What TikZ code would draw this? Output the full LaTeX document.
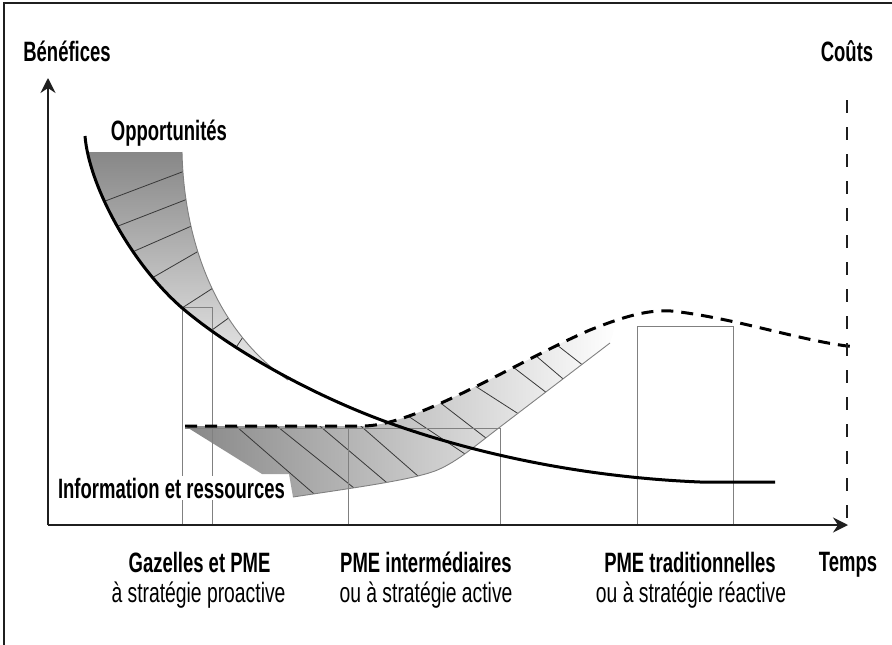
\documentclass[tikz,border=0pt]{standalone}
\usepackage{fontspec}
\newfontfamily\labb[FakeStretch=0.66]{Liberation Sans}
\newfontfamily\labr[FakeStretch=0.69]{Liberation Sans}
\usetikzlibrary{arrows.meta,calc}
\definecolor{thinc}{gray}{0.5}
\definecolor{hatchc}{gray}{0.22}
\definecolor{axisc}{gray}{0.12}
\definecolor{darkfill}{gray}{0.53}
\def\maincurve{(85,136) .. controls (89,185) and (130,262) .. (181,307) .. controls (231,350) and (315,397) .. (395,425) .. controls (475,453) and (580,477) .. (700,482) -- (775,482)}
\def\upperband{(60,152) -- (182,152) .. controls (184,240) and (215,330) .. (288,380) -- (250,420) -- (60,420) -- cycle}
\def\lowerband{(185,426) -- (365,426) .. controls (420,424) and (520,360) .. (590,330) -- (618,318) -- (610,343) -- (500,427) .. controls (470,450) and (455,463) .. (435,471) .. controls (410,480) and (360,487) .. (293,497) -- (289,474) -- (262,474) -- cycle}
\tikzset{
  bl/.style={font=\fontsize{28}{32}\labb\bfseries, inner sep=0pt, anchor=base},
  rl/.style={font=\fontsize{28}{32}\labr, inner sep=0pt, anchor=base},
  thinline/.style={draw=thinc, line width=0.9pt},
  hatchline/.style={draw=hatchc, line width=0.8pt},
  axisline/.style={draw=axisc, line width=1.6pt},
  tipstyle/.style={-{Stealth[length=15pt,width=15pt,inset=5pt]}}
}
\begin{document}
\begin{tikzpicture}[x=1pt,y=-1pt]
\useasboundingbox (0,0) rectangle (892,645);
% frame
\draw[line width=2pt, axisc] (4,645) -- (4,3) -- (892,3);
% upper band
\begin{scope}
  \clip (85,0) -- \maincurve -- (892,482) -- (892,0) -- cycle;
  \clip \upperband;
  \shade[top color=darkfill, bottom color=white] \upperband;
  \foreach \a/\b/\c/\d in {100/203/182/172, 113/228/185/200, 130/253/187/228, 152/278/197/252, 182/308/213/288, 212/330/230/317, 237/346/243/337}{
    \draw[hatchline] ($(\a,\b)!-0.3!(\c,\d)$) -- ($(\c,\d)!-0.3!(\a,\b)$);
  }
\end{scope}
\draw[thinline] (182,152) .. controls (184,240) and (215,330) .. (288,380);
% lower band
\begin{scope}
  \clip \lowerband;
  \shade[left color=darkfill, right color=white] \lowerband;
  \foreach \a/\b/\c/\d in {237/427/313/493, 278/427/354/488, 321/427/386/482, 362/427/418/476, 405/414/462/452, 438/401/482/435, 472/384/514/411, 513/367/543/390, 535/355/562/378, 557/345/580/363}{
    \draw[hatchline] ($(\a,\b)!-0.3!(\c,\d)$) -- ($(\c,\d)!-0.3!(\a,\b)$);
  }
\end{scope}
\draw[thinline] (293,497) .. controls (360,487) and (410,480) .. (435,471) .. controls (455,463) and (470,450) .. (500,427) -- (610,343);
% rectangles
\draw[thinline] (182,525) -- (182,307) -- (212,307) -- (212,525);
\draw[thinline] (185,428) -- (500,428);
\draw[thinline] (348,525) -- (348,428);
\draw[thinline] (500,428) -- (500,525);
\draw[thinline] (637,525) -- (637,326) -- (733,326) -- (733,525);
% curves
\draw[line width=3pt, black] \maincurve;
\draw[line width=3pt, black, dash pattern=on 12pt off 8pt] (185,426) -- (365,426) .. controls (420,424) and (520,360) .. (590,330) .. controls (630,314) and (655,308) .. (680,312) .. controls (740,320) and (800,340) .. (847,346) -- (857,347);
% axes
\coordinate (O) at (48,525);
\coordinate (Ytip) at (48,78);
\coordinate (Xtip) at (848,525);
\draw[axisline, tipstyle] (O) -- (Ytip);
\draw[axisline, tipstyle] (O) -- (Xtip);
\coordinate (Ctop) at (847,100);
\coordinate (Cbot) at (847,525);
\draw[axisline, line width=1.5pt, dash pattern=on 13pt off 14pt] (Ctop) -- (Cbot);
% labels
\node[bl] (ben) at (67,61) {Bénéfices};
\node[bl] (cout) at (847,61) {Coûts};
\node[bl] (opp) at (169,140) {Opportunités};
\node[bl, fill=white, inner sep=2pt] (info) at (171.5,498) {Information et ressources};
\node[bl] (temps) at (848,571) {Temps};
\node[bl] (g1) at (199.5,572) {Gazelles et PME};
\node[rl] (g2) at (198.5,602) {à stratégie proactive};
\node[bl] (i1) at (426,572) {PME intermédiaires};
\node[rl] (i2) at (426,602) {ou à stratégie active};
\node[bl] (t1) at (690,572) {PME traditionnelles};
\node[rl] (t2) at (691,602) {ou à stratégie réactive};
\end{tikzpicture}
\end{document}
